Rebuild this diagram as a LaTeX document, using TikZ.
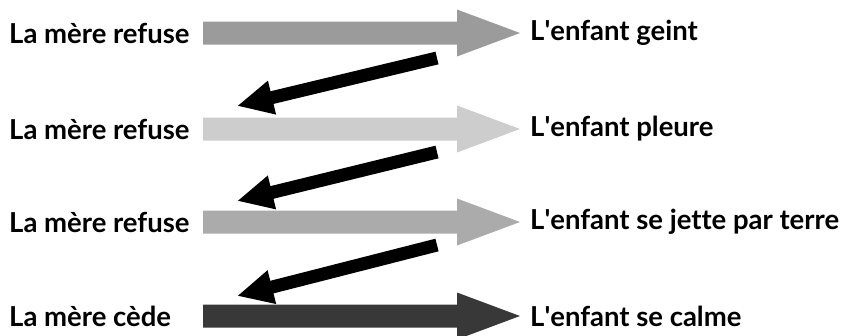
\documentclass[tikz,border=0pt]{standalone}
\usepackage{fontspec}
\setmainfont{Lato}[Ligatures=NoCommon]
\usetikzlibrary{arrows.meta}
\definecolor{gA}{HTML}{9B9B9B}
\definecolor{gB}{HTML}{CDCDCD}
\definecolor{gC}{HTML}{ABABAB}
\definecolor{gD}{HTML}{383838}
\tikzset{
  lab/.style={font=\fontsize{27.5}{30}\selectfont\bfseries, inner sep=0pt, text=black},
  back/.style={line width=13pt, draw=black, -{Triangle[length=36pt,width=32pt]}},
}
\newcommand{\blockarrow}[2]{%
  \fill[#1] (203,#2-11.5) -- (457,#2-11.5) -- (457,#2-23.5) -- (520,#2) -- (457,#2+23.5) -- (457,#2+11.5) -- (203,#2+11.5) -- cycle;}
\newcommand{\ap}{\textquotesingle}
\begin{document}
\begin{tikzpicture}[x=1pt,y=-1pt]
\useasboundingbox (0,0) rectangle (841,335);
\blockarrow{gA}{33}
\blockarrow{gB}{129}
\blockarrow{gC}{222}
\blockarrow{gD}{316}
\node[lab, anchor=west] (m1) at (9,33) {La mère refuse};
\node[lab, anchor=west] (m2) at (9,129) {La mère refuse};
\node[lab, anchor=west] (m3) at (9,222) {La mère refuse};
\node[lab, anchor=west] (m4) at (9,316) {La mère cède};
\node[lab, anchor=west] (e1) at (530,33) {L\ap enfant geint};
\node[lab, anchor=west] (e2) at (530,129) {L\ap enfant pleure};
\node[lab, anchor=west] (e3) at (530,222) {L\ap enfant se jette par terre};
\node[lab, anchor=west] (e4) at (530,316) {L\ap enfant se calme};
\coordinate (s1) at (437,58);
\coordinate (t1) at (237,106);
\coordinate (s2) at (437,152);
\coordinate (t2) at (237,201);
\coordinate (s3) at (437,245);
\coordinate (t3) at (237,296);
\draw[back] (s1) -- (t1);
\draw[back] (s2) -- (t2);
\draw[back] (s3) -- (t3);
\end{tikzpicture}
\end{document}
